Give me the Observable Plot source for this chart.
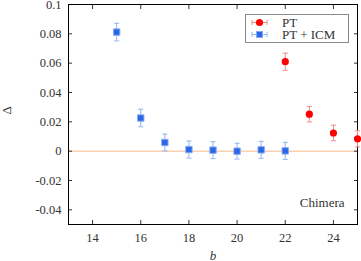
<!DOCTYPE html>
<html>
<head>
<meta charset="utf-8">
<script src="https://cdn.jsdelivr.net/npm/d3@7"></script>
<script src="https://cdn.jsdelivr.net/npm/@observablehq/plot@0.6"></script>
<style>
  html, body { margin: 0; padding: 0; background: white; }
  #wrap { position: relative; width: 361px; height: 261px; }
  #legend { position: absolute; left: 245px; top: 14px; }
  svg text { font-family: "Liberation Serif" !important; }
</style>
</head>
<body>
<div id="wrap"><div id="chart"></div><div id="legend"></div></div>
<script>
// ---- data ----
const seriesNames = ["PT", "PT + ICM"];
const bPT = [22, 23, 24, 25];
const dPT = [0.061, 0.0252, 0.0124, 0.0084];
const ePT = [0.0058, 0.0053, 0.0053, 0.0055];
const bICM = [15, 16, 17, 18, 19, 20, 21, 22];
const dICM = [0.0812, 0.0226, 0.0059, 0.0011, 0.0007, 0.0, 0.0009, 0.0002];
const eICM = [0.006, 0.006, 0.0057, 0.0058, 0.0058, 0.0054, 0.0058, 0.0058];
const xTicks = [14, 16, 18, 20, 22, 24];
const yTicks = [-0.04, -0.02, 0, 0.02, 0.04, 0.06, 0.08, 0.1];
const annotation = "Chimera";
const xLabel = "b";
const yLabel = "Δ";

const colPT = "#ff0000", colPTbar = "#f08a8a";
const colICM = "#2a66e6", colICMbar = "#93b3f3", colICMedge = "#86a9f2";
const zeroCol = "#f5b98a";
const FONT = "Liberation Serif";

const rowsPT = bPT.map((b, i) => ({b, d: dPT[i], e: ePT[i]}));
const rowsICM = bICM.map((b, i) => ({b, d: dICM[i], e: eICM[i]}));

const cap = {draw(ctx, size) { const h = Math.sqrt(size / Math.PI); ctx.moveTo(-h, 0); ctx.lineTo(h, 0); }};
const fmt = d => String(+d.toFixed(2));

function errMarks(rows, barCol) {
  return [
    Plot.ruleX(rows, {x: "b", y1: d => d.d - d.e, y2: d => d.d + d.e, stroke: barCol, strokeWidth: 1}),
    Plot.dot(rows, {x: "b", y: d => d.d - d.e, symbol: cap, r: 2.5, stroke: barCol, strokeWidth: 1}),
    Plot.dot(rows, {x: "b", y: d => d.d + d.e, symbol: cap, r: 2.5, stroke: barCol, strokeWidth: 1})
  ];
}

const chart = Plot.plot({
  width: 361, height: 261,
  marginLeft: 68, marginRight: 4, marginTop: 4, marginBottom: 37,
  x: {domain: [13, 25]},
  y: {domain: [-0.05, 0.1]},
  style: {fontFamily: FONT, fontSize: "12px", background: "white", color: "#333"},
  marks: [
    Plot.ruleY([0], {stroke: zeroCol, strokeWidth: 1}),
    Plot.axisX(xTicks, {anchor: "bottom", tickSize: -4, tickFormat: () => "", label: null}),
    Plot.axisX(xTicks, {anchor: "top", tickSize: -4, tickFormat: () => "", label: null}),
    Plot.axisX(xTicks, {anchor: "bottom", tickSize: 0, tickPadding: 9, label: null, fontSize: 12.5}),
    Plot.axisY(yTicks, {anchor: "left", tickSize: -4, tickFormat: () => "", label: null}),
    Plot.axisY(yTicks, {anchor: "right", tickSize: -4, tickFormat: () => "", label: null}),
    Plot.axisY(yTicks, {anchor: "left", tickSize: 0, tickPadding: 7, tickFormat: fmt, label: null, fontSize: 12.5}),
    Plot.frame({stroke: "black", strokeWidth: 1}),
    ...errMarks(rowsICM, colICMbar),
    Plot.dot(rowsICM, {x: "b", y: "d", symbol: "square", r: 3.6, fill: colICM, stroke: colICMedge, strokeWidth: 1}),
    ...errMarks(rowsPT, colPTbar),
    Plot.dot(rowsPT, {x: "b", y: "d", symbol: "circle", r: 3.6, fill: colPT}),
    Plot.text([annotation], {frameAnchor: "bottom-right", dx: -13, dy: -22, textAnchor: "end", lineAnchor: "middle", fontSize: 13}),
    Plot.text([xLabel], {frameAnchor: "bottom", dy: 31, lineAnchor: "middle", fontStyle: "italic", fontSize: 13}),
    Plot.text([yLabel], {frameAnchor: "left", dx: -62, rotate: -90, lineAnchor: "middle", fontSize: 13})
  ]
});
document.getElementById("chart").appendChild(chart);

// ---- legend (drawn as an overlay) ----
const leg = d3.select("#legend").append("svg").attr("width", 104).attr("height", 29)
  .style("font-family", FONT).style("font-size", "13px");
leg.append("rect").attr("x", 0.5).attr("y", 0.5).attr("width", 103).attr("height", 28)
  .attr("fill", "white").attr("stroke", "#8a8a8a");
const items = [
  {name: seriesNames[0], col: colPT, bar: colPTbar, shape: "circle"},
  {name: seriesNames[1], col: colICM, bar: colICMbar, shape: "square"}
];
items.forEach((it, i) => {
  const y = 8.5 + i * 12;
  const g = leg.append("g");
  g.append("line").attr("x1", 7).attr("x2", 22).attr("y1", y).attr("y2", y).attr("stroke", it.bar);
  g.append("line").attr("x1", 7).attr("x2", 7).attr("y1", y - 2.5).attr("y2", y + 2.5).attr("stroke", it.bar);
  g.append("line").attr("x1", 22).attr("x2", 22).attr("y1", y - 2.5).attr("y2", y + 2.5).attr("stroke", it.bar);
  if (it.shape === "circle") g.append("circle").attr("cx", 14.5).attr("cy", y).attr("r", 3.6).attr("fill", it.col);
  else g.append("rect").attr("x", 11.5).attr("y", y - 3).attr("width", 6).attr("height", 6).attr("fill", it.col).attr("stroke", colICMedge);
  g.append("text").attr("x", 37).attr("y", y).attr("dy", "0.35em").attr("fill", "#333").text(it.name);
});
</script>
</body>
</html>
